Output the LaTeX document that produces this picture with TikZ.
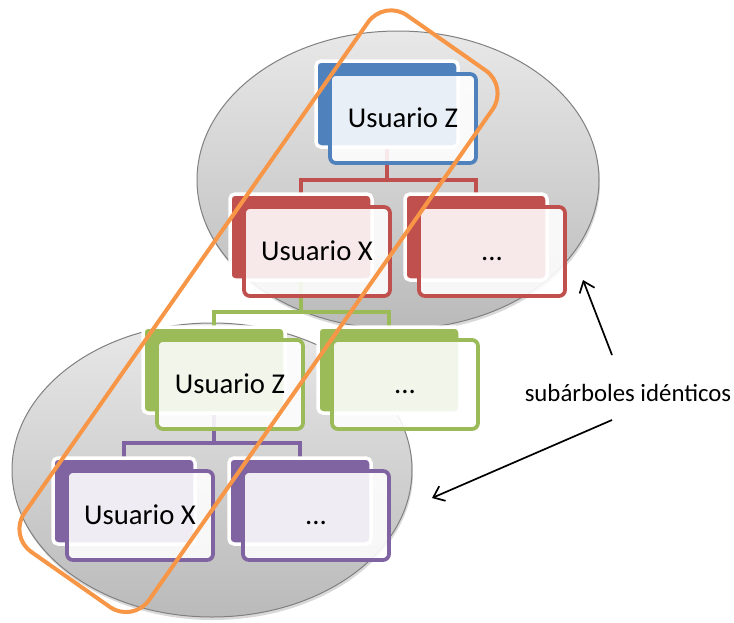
\documentclass[tikz,border=0pt]{standalone}
\usepackage{fontspec}
\setmainfont{Carlito}
\usetikzlibrary{arrows.meta,shapes.geometric,shadows}
\definecolor{ublue}{HTML}{4F81BD}
\definecolor{ured}{HTML}{C0504D}
\definecolor{ugreen}{HTML}{9BBB59}
\definecolor{upurple}{HTML}{8064A2}
\definecolor{uorange}{HTML}{F79646}
\pgfdeclarelayer{groups}
\pgfdeclarelayer{links}
\pgfsetlayers{groups,links,main}
\tikzset{
  backcard/.style={rectangle, rounded corners=5pt, minimum width=142pt, minimum height=86pt,
    fill=#1, draw=white, line width=3.5pt, inner sep=0pt},
  frontcard/.style={rectangle, rounded corners=6pt, minimum width=146pt, minimum height=89pt,
    fill=white, fill opacity=0.88, text opacity=1, draw=#1, line width=3.8pt, inner sep=0pt,
    text height=22pt, text depth=5pt, font=\fontsize{28.7}{34}\selectfont},
  link/.style={draw=#1, line width=3.8pt},
  group/.style={ellipse, draw=black!50, line width=1pt, top color=black!9, bottom color=black!27,
    inner sep=0pt, drop shadow={opacity=0.3, shadow xshift=1pt, shadow yshift=-3pt}},
  pointer/.style={line width=1.7pt, -{Straight Barb[length=10pt,width=16pt]}},
  selection/.style={rectangle, draw=uorange, line width=4pt, rounded corners=28pt, inner sep=0pt},
}
\begin{document}
\begin{tikzpicture}[x=1pt,y=-1pt]
\useasboundingbox (0,0) rectangle (734,622);

% grey groups holding the two identical subtrees
\begin{pgfonlayer}{groups}
  \node[group, minimum width=402pt, minimum height=298pt] (upper) at (398,180) {};
  \node[group, minimum width=400pt, minimum height=294pt] (lower) at (212,470) {};
\end{pgfonlayer}

% level 1
\node[backcard=ublue] (zb) at (387,104) {};
\node[frontcard=ublue] (z) at (403,118.5) {Usuario Z};
% level 2
\node[backcard=ured] (xb) at (301,237) {};
\node[frontcard=ured] (x) at (317,251.5) {Usuario X};
\node[backcard=ured] (d1b) at (476,237) {};
\node[frontcard=ured] (d1) at (492,251.5) {...};
% level 3
\node[backcard=ugreen] (z2b) at (214,370) {};
\node[frontcard=ugreen] (z2) at (230,384.5) {Usuario Z};
\node[backcard=ugreen] (d2b) at (389,370) {};
\node[frontcard=ugreen] (d2) at (405,384.5) {...};
% level 4
\node[backcard=upurple] (x2b) at (124,501) {};
\node[frontcard=upurple] (x2) at (140,515.5) {Usuario X};
\node[backcard=upurple] (d3b) at (300,501) {};
\node[frontcard=upurple] (d3) at (316,515.5) {...};

% tree connectors
\coordinate (bar1) at (0,180);
\coordinate (bar2) at (0,312);
\coordinate (bar3) at (0,443);
\begin{pgfonlayer}{links}
  \draw[link=ured] (zb.center) -- (zb.center |- bar1) -| (xb.center);
  \draw[link=ured] (zb.center |- bar1) -| (d1b.center);
  \draw[link=ugreen] (xb.center) -- (xb.center |- bar2) -| (z2b.center);
  \draw[link=ugreen] (xb.center |- bar2) -| (d2b.center);
  \draw[link=upurple] (z2b.center) -- (z2b.center |- bar3) -| (x2b.center);
  \draw[link=upurple] (z2b.center |- bar3) -| (d3b.center);
\end{pgfonlayer}

% selection around the repeated path
\node[selection, rotate=55, minimum width=655pt, minimum height=152pt] (sel) at (258.5,311.2) {};

% caption with its two pointers
\node[font=\fontsize{24.8}{30}\selectfont] (lbl) at (628,393) {subárboles idénticos};
\coordinate (p1s) at (612,355);
\coordinate (p1e) at (583,280);
\coordinate (p2s) at (612,420);
\coordinate (p2e) at (432,498);
\draw[pointer] (p1s) -- (p1e);
\draw[pointer] (p2s) -- (p2e);
\end{tikzpicture}
\end{document}
